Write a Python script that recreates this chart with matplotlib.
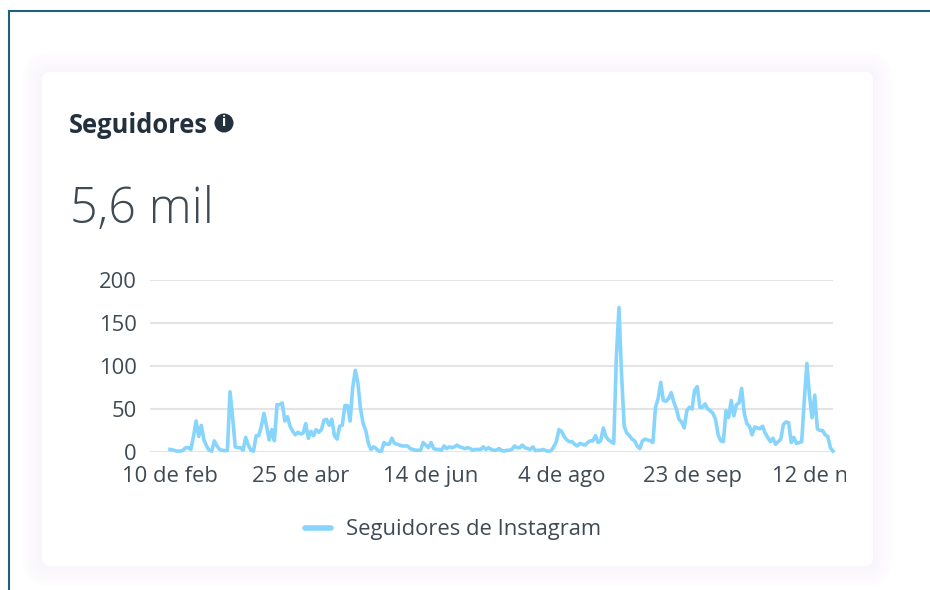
import matplotlib
matplotlib.use("Agg")
import matplotlib.pyplot as plt
from matplotlib.patches import FancyBboxPatch, Circle
from matplotlib.transforms import Bbox

plt.rcParams['font.family'] = ['Open Sans', 'DejaVu Sans']

title = "Seguidores"
total = "5,6 mil"
series_name = "Seguidores de Instagram"

seguidores = [3, 2.5, 1.5, 1, 1, 2, 5, 5, 3, 18, 36, 18, 31, 14, 7, 2, 1, 13, 7, 3,
              2, 1.5, 2, 70, 40, 6, 5, 5, 2, 17, 8, 2, 1, 19, 19, 30, 45, 30, 14, 26,
              13, 55, 55, 57, 36, 41, 30, 24, 20, 23, 21, 22, 33, 16, 24, 19, 26, 23, 26, 37,
              38, 31, 38, 19, 15, 30, 31, 54, 54, 36, 75, 95, 80, 50, 33, 25, 10, 3, 6, 4,
              1, 1, 11, 9, 9, 16, 10, 9, 8, 7, 7, 7, 4, 3, 2, 2, 2, 11, 8, 5,
              11, 4, 3, 3, 2, 7, 4, 6, 5, 6, 8, 6, 5, 4, 5, 4, 2, 3, 3, 3,
              6, 3, 5, 3, 2, 2, 4, 2, 1, 2, 2, 3, 7, 5, 5, 8, 5, 4, 3, 6,
              1.5, 2, 2, 3, 1.5, 1, 1.5, 6, 12, 26, 24, 18, 14, 12, 12, 9, 7, 10, 9, 8,
              11, 13, 13, 19, 11, 13, 28, 18, 14, 12, 10, 110, 168, 90, 30, 22, 19, 15, 13, 7,
              4, 13, 15, 14, 13, 11, 52, 62, 81, 60, 59, 62, 69, 58, 50, 38, 35, 28, 48, 52,
              50, 72, 76, 52, 52, 56, 50, 48, 45, 38, 20, 13, 12, 48, 40, 60, 42, 55, 57, 74,
              45, 33, 30, 20, 29, 28, 27, 30, 22, 17, 12, 16, 9, 12, 15, 32, 35, 34, 11, 17,
              10, 11, 12, 60, 103, 65, 40, 66, 27, 25, 25, 20, 18, 5, 1]
xticks = [0, 50, 100, 150, 200, 250]
xlabels = ["10 de feb", "25 de abr", "14 de jun", "4 de ago", "23 de sep", "12 de nov"]
yticks = [0, 50, 100, 150, 200]

W, H = 930, 590
dark = "#22313d"
grey = "#3f4a54"
azul = "#87d5fc"

fig = plt.figure(figsize=(W / 100, H / 100), dpi=100, facecolor="white")

# fondo y tarjeta, en pixeles
bg = fig.add_axes([0, 0, 1, 1])
bg.set_xlim(0, W)
bg.set_ylim(H, 0)
bg.axis("off")
bg.plot([9, 930], [11, 11], color="#1f5f85", lw=1.5)
bg.plot([9, 9], [11, 590], color="#1f5f85", lw=1.5)
for grow in range(20, 0, -3):
    bg.add_patch(FancyBboxPatch((42 - grow, 72 - grow), 831 + 2 * grow, 494 + 2 * grow,
                                boxstyle="round,pad=0,rounding_size=%d" % (8 + grow),
                                fc="#ece8fb", ec="none", alpha=0.05))
bg.add_patch(FancyBboxPatch((42, 72), 831, 494, boxstyle="round,pad=0,rounding_size=8",
                            fc="white", ec="none"))

bg.text(69, 125.5, title, fontsize=18.4, fontweight="bold", color=dark, va="center")
bg.add_patch(Circle((224, 123), 9.5, fc=dark, ec="none"))
bg.text(224, 122.5, "i", fontsize=10, fontweight="bold", color="white", ha="center", va="center")
bg.text(70, 210, total, fontsize=35, fontweight="light", color=grey, va="center")

# grafica
x0, x1, y0, y1 = 150, 833, 280, 452
ax = fig.add_axes([x0 / W, 1 - y1 / H, (x1 - x0) / W, (y1 - y0) / H])
ax.patch.set_alpha(0)
ind = list(range(len(seguidores)))
line, = ax.plot(ind, seguidores, color=azul, lw=2.6, solid_joinstyle="round",
                label=series_name, clip_on=False)
ax.set_xlim(-7.66, 254)
ax.set_ylim(0, 200)
ax.set_yticks(yticks)
ax.set_xticks(xticks)
ax.set_xticklabels(xlabels)
ax.yaxis.grid(color="#e4e4e4", lw=1.5)
ax.set_axisbelow(True)
for s in ax.spines.values():
    s.set_visible(False)
ax.tick_params(axis="both", length=0, labelsize=15.8, labelcolor=grey)
ax.tick_params(axis="x", pad=10)
ax.tick_params(axis="y", pad=9.5)

# la ultima etiqueta queda cortada como en el original
clip = Bbox([[0, 0], [846, H]])
for lab in ax.get_xticklabels():
    lab.set_clip_box(clip)
    lab.set_clip_on(True)

leg = fig.legend(handles=[line], loc="center", bbox_to_anchor=(453 / W, 1 - 530 / H), frameon=False,
                 fontsize=15.8, labelcolor=grey, handlelength=1.2, handletextpad=0.65)
leg.get_lines()[0].set_linewidth(4)
leg.get_lines()[0].set_solid_capstyle("round")

fig.savefig("out.png", dpi=100)
